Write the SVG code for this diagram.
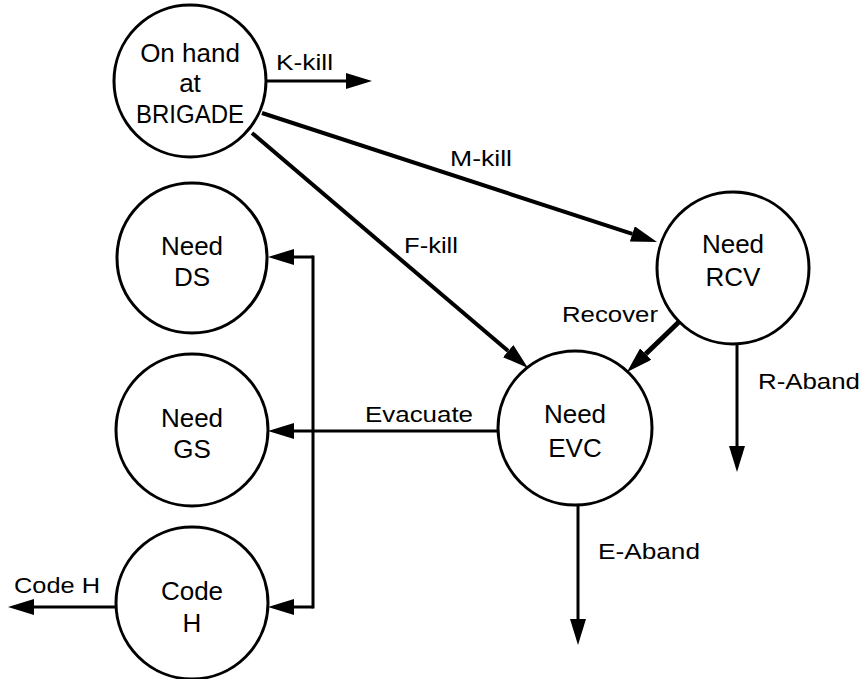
<svg xmlns="http://www.w3.org/2000/svg" width="864" height="679" viewBox="0 0 864 679">
<style>
.node circle{fill:#fff;stroke:#000;stroke-width:3}
.nt{font-family:"Liberation Sans",Arial,sans-serif;font-size:26px;text-anchor:middle;fill:#000}
.lb{font-family:"Liberation Sans",Arial,sans-serif;font-size:22px;fill:#000}
.ed{fill:none;stroke:#000;stroke-width:4}
</style>
<defs>
<marker id="ah" markerUnits="userSpaceOnUse" viewBox="0 0 26 16" refX="0" refY="8" markerWidth="26" markerHeight="16" orient="auto">
<path d="M0,0 L26,8 L0,16 z" fill="#000"/>
</marker>
</defs>
<rect width="864" height="679" fill="#fff"/>
<g id="connectors">
<line class="ed" x1="267" y1="81" x2="346" y2="81" marker-end="url(#ah)" style="stroke-width:3"/>
<line class="ed" x1="262" y1="113" x2="632.3" y2="233.9" marker-end="url(#ah)"/>
<line class="ed" x1="252" y1="133" x2="508.2" y2="351.1" marker-end="url(#ah)"/>
<line class="ed" x1="683" y1="318" x2="645.7" y2="354" marker-end="url(#ah)" style="stroke-width:5"/>
<line class="ed" x1="737" y1="334" x2="737" y2="446" marker-end="url(#ah)" style="stroke-width:3"/>
<line class="ed" x1="578" y1="505" x2="578" y2="619" marker-end="url(#ah)" style="stroke-width:3"/>
<line class="ed" x1="498" y1="431" x2="294" y2="431" marker-end="url(#ah)" style="stroke-width:3"/>
<line class="ed" x1="313" y1="257" x2="294" y2="257" marker-end="url(#ah)" style="stroke-width:3"/>
<line class="ed" x1="313" y1="607" x2="294" y2="607" marker-end="url(#ah)" style="stroke-width:3"/>
<line class="ed" x1="313" y1="255.5" x2="313" y2="608.5" style="stroke-width:3"/>
<line class="ed" x1="117" y1="607" x2="34" y2="607" marker-end="url(#ah)" style="stroke-width:3"/>
<text class="lb" x="276" y="70" textLength="57" lengthAdjust="spacingAndGlyphs">K-kill</text>
<text class="lb" x="450" y="166" textLength="62" lengthAdjust="spacingAndGlyphs">M-kill</text>
<text class="lb" x="404" y="253" textLength="54" lengthAdjust="spacingAndGlyphs">F-kill</text>
<text class="lb" x="562" y="322" textLength="96" lengthAdjust="spacingAndGlyphs">Recover</text>
<text class="lb" x="758" y="389" textLength="102" lengthAdjust="spacingAndGlyphs">R-Aband</text>
<text class="lb" x="365" y="422" textLength="108" lengthAdjust="spacingAndGlyphs">Evacuate</text>
<text class="lb" x="598" y="559" textLength="102" lengthAdjust="spacingAndGlyphs">E-Aband</text>
<text class="lb" x="14" y="593" textLength="86" lengthAdjust="spacingAndGlyphs">Code H</text>
</g>
<g id="brigade" class="node">
<circle cx="190" cy="81" r="76"/>
<text class="nt" x="190" y="62">On hand</text>
<text class="nt" x="190" y="92">at</text>
<text class="nt" x="190" y="123" textLength="108" lengthAdjust="spacingAndGlyphs">BRIGADE</text>
</g>
<g id="need-ds" class="node">
<circle cx="192" cy="258" r="75"/>
<text class="nt" x="192" y="255">Need</text>
<text class="nt" x="192" y="286">DS</text>
</g>
<g id="need-gs" class="node">
<circle cx="192" cy="430" r="76"/>
<text class="nt" x="192" y="427">Need</text>
<text class="nt" x="192" y="458">GS</text>
</g>
<g id="code-h" class="node">
<circle cx="192" cy="603" r="76"/>
<text class="nt" x="192" y="600">Code</text>
<text class="nt" x="192" y="632">H</text>
</g>
<g id="need-rcv" class="node">
<circle cx="733" cy="268" r="76"/>
<text class="nt" x="733" y="253">Need</text>
<text class="nt" x="733" y="286">RCV</text>
</g>
<g id="need-evc" class="node">
<circle cx="575" cy="428" r="77"/>
<text class="nt" x="575" y="423">Need</text>
<text class="nt" x="575" y="457">EVC</text>
</g>
</svg>
